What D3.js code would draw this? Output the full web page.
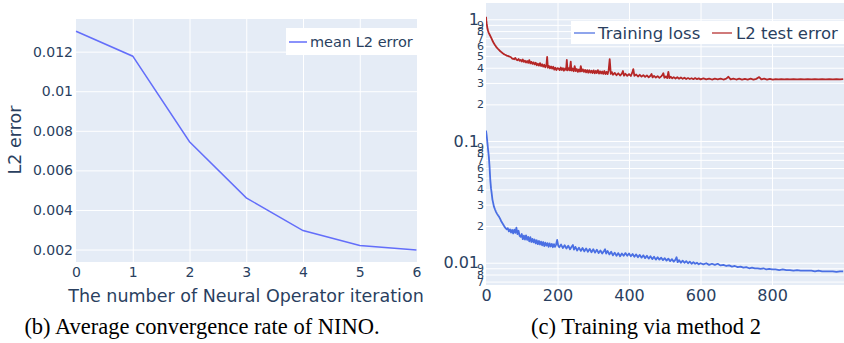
<!DOCTYPE html>
<html><head><meta charset="utf-8">
<script src="https://cdn.jsdelivr.net/npm/d3@7"></script>
<style>
body{margin:0;background:#fff}
svg{display:block}
.pl text{font-family:"DejaVu Sans",sans-serif;fill:#2a3f5f}
.cap{font-family:"Liberation Serif",serif;fill:#000}
</style></head><body>
<svg id="c" width="844" height="343"></svg>
<script>
// ---------- data: left chart ----------
const iterations = [0, 1, 2, 3, 4, 5, 6];
const meanL2Error = [0.01303, 0.01177, 0.00745, 0.00461, 0.00296, 0.00220, 0.00198];
const leftYTicks = [0.002, 0.004, 0.006, 0.008, 0.01, 0.012];
const leftYLabels = ["0.002", "0.004", "0.006", "0.008", "0.01", "0.012"];

// ---------- data: right chart ([epoch, value]) ----------
const trainLoss = [[0,.122],[2,.110],[4,.096],[6,.084],[8,.074],[10,.061],[12,.048],[14,.041],[16,.037],[18,.033],[20,.031],[22,.029],[25,.0275],[28,.0262],[31,.0252],[34,.0244],[37,.0237],[40,.0228],[43,.0218],[46,.0211],[49,.0204],[52,.0197],[55,.0192],[58,.0188],[61,.0192],[64,.0181],[67,.0188],[70,.0177],[73,.0186],[76,.0174],[79,.0187],[82,.0176],[85,.0194],[88,.0172],[91,.0183],[94,.0166],[97,.0163],[100,.0172],[103,.0156],[106,.0167],[109,.0155],[112,.0168],[115,.0154],[118,.0163],[121,.0150],[124,.0162],[127,.0148],[130,.0157],[133,.0147],[136,.0155],[139,.0144],[142,.0153],[145,.0142],[148,.0151],[151,.0141],[154,.0149],[157,.0139],[160,.0148],[163,.0137],[166,.0146],[169,.0138],[172,.0145],[175,.0135],[178,.0144],[181,.0136],[184,.0143],[187,.0134],[190,.0142],[193,.0135],[196,.0141],[199,.0154],[202,.0138],[205,.0134],[210,.0141],[215,.0132],[220,.0139],[225,.0131],[230,.0138],[235,.0129],[240,.0136],[243,.0140],[246,.0128],[250,.0135],[255,.0126],[260,.0133],[265,.0125],[270,.0132],[275,.0124],[280,.0131],[285,.0123],[290,.0130],[295,.0122],[300,.0129],[305,.0121],[310,.0128],[315,.0120],[320,.0126],[325,.0119],[330,.0125],[333,.0129],[336,.0119],[340,.0125],[345,.0117],[350,.0123],[355,.0115],[360,.0121],[365,.0114],[370,.0120],[375,.0113],[380,.0119],[385,.0114],[390,.0120],[395,.0114],[400,.0119],[405,.0113],[410,.0118],[415,.0112],[420,.0117],[425,.0111],[430,.0116],[435,.0110],[440,.0115],[445,.0109],[450,.0114],[455,.0108],[460,.0113],[465,.0107],[470,.0112],[475,.0106],[480,.0111],[485,.0106],[490,.0110],[495,.0105],[500,.0109],[505,.0104],[510,.0108],[515,.0103],[520,.0107],[525,.0102],[530,.0106],[533,.0111],[536,.0101],[540,.0105],[545,.0100],[550,.0104],[555,.0100],[560,.0103],[565,.0099],[570,.0102],[575,.0098],[580,.0101],[585,.0098],[590,.0100],[595,.0097],[600,.0099],[608,.0097],[616,.0099],[624,.0096],[632,.0098],[640,.0096],[648,.0098],[656,.0095],[664,.0096],[672,.0094],[680,.0095],[688,.0093],[696,.0094],[704,.0092],[712,.0093],[720,.0091],[728,.0092],[736,.0090],[744,.0091],[752,.0090],[760,.0090],[768,.0089],[776,.0090],[784,.0088],[792,.0089],[800,.0088],[810,.0088],[820,.0087],[830,.0088],[840,.0087],[850,.0087],[860,.0086],[870,.0087],[880,.0086],[890,.0086],[900,.0086],[910,.0086],[920,.0085],[930,.0086],[940,.0085],[950,.0085],[960,.0085],[970,.0085],[980,.0084],[990,.0085],[999,.0085]];

const testError = [[0,1.05],[1,.97],[2,.92],[3,.88],[4,.84],[6,.80],[8,.77],[10,.75],[13,.72],[16,.69],[19,.66],[22,.635],[25,.615],[28,.597],[31,.583],[34,.570],[37,.558],[40,.546],[43,.537],[46,.528],[49,.520],[52,.514],[55,.509],[58,.503],[61,.500],[64,.496],[67,.492],[70,.488],[73,.476],[76,.474],[79,.469],[82,.482],[85,.466],[88,.461],[91,.472],[94,.456],[97,.464],[100,.450],[103,.467],[106,.447],[109,.457],[112,.442],[115,.454],[118,.438],[121,.462],[124,.434],[127,.447],[130,.430],[133,.443],[136,.426],[139,.440],[142,.419],[145,.432],[148,.416],[151,.436],[154,.413],[157,.427],[160,.408],[163,.423],[166,.403],[169,.420],[171,.490],[173,.400],[176,.414],[179,.396],[182,.410],[185,.393],[188,.407],[191,.386],[194,.400],[197,.383],[200,.397],[203,.394],[206,.382],[209,.402],[212,.383],[215,.397],[218,.378],[221,.394],[224,.384],[226,.463],[228,.380],[231,.397],[234,.381],[237,.449],[239,.378],[242,.394],[245,.374],[248,.412],[251,.376],[254,.390],[257,.370],[260,.387],[263,.372],[265,.413],[268,.374],[271,.388],[274,.370],[277,.384],[280,.366],[283,.382],[286,.364],[289,.381],[292,.365],[295,.378],[298,.362],[301,.380],[304,.360],[307,.377],[310,.362],[313,.382],[316,.358],[319,.374],[322,.359],[325,.372],[328,.356],[331,.376],[334,.355],[337,.370],[340,.354],[343,.382],[346,.470],[349,.356],[352,.368],[355,.350],[360,.363],[365,.347],[370,.360],[375,.345],[380,.358],[383,.376],[386,.344],[390,.357],[395,.343],[400,.355],[405,.342],[409,.364],[412,.390],[415,.343],[420,.352],[425,.339],[430,.350],[435,.338],[440,.348],[445,.336],[450,.346],[455,.334],[460,.344],[463,.355],[466,.333],[470,.343],[475,.332],[480,.341],[485,.330],[490,.340],[493,.347],[496,.360],[499,.331],[503,.339],[507,.329],[510,.370],[513,.329],[517,.337],[521,.327],[525,.335],[530,.326],[535,.334],[540,.325],[545,.333],[550,.324],[555,.331],[560,.323],[565,.329],[570,.323],[575,.328],[580,.322],[585,.329],[590,.322],[595,.327],[600,.321],[608,.327],[616,.321],[624,.326],[632,.320],[640,.325],[648,.321],[656,.326],[664,.320],[672,.325],[678,.337],[684,.321],[692,.326],[700,.320],[708,.325],[716,.320],[724,.324],[732,.320],[740,.325],[748,.320],[756,.324],[764,.335],[770,.321],[778,.325],[786,.320],[794,.324],[802,.320],[810,.323],[818,.321],[826,.323],[834,.321],[842,.323],[850,.321],[860,.322],[870,.321],[880,.322],[890,.321],[900,.322],[910,.321],[920,.322],[930,.321],[940,.322],[950,.321],[960,.322],[970,.321],[980,.322],[990,.321],[999,.322]];

const rightXTicks = [0, 200, 400, 600, 800];
const rightMajorTicks = [1, 0.1, 0.01];
const rightMajorLabels = ["1", "0.1", "0.01"];
const rightMinorTicks = [0.9,0.8,0.7,0.6,0.5,0.4,0.3,0.2,0.09,0.08,0.07,0.06,0.05,0.04,0.03,0.02,0.009,0.008,0.007];
const rightMinorLabels = ["9","8","7","6","5","4","3","2","9","8","7","6","5","4","3","2","9","8","7"];
const seriesNames = ["Training loss", "L2 test error"];
const captions = ["(b) Average convergence rate of NINO.", "(c) Training via method 2"];

// ---------- drawing ----------
const svg = d3.select("#c");
const BG = "#E5ECF6";

// ===== left chart =====
const gL = svg.append("g").attr("class", "pl");
const xL = d3.scaleLinear().domain([0, 6]).range([76, 416.5]);
const yL = d3.scaleLinear().domain([0.00137, 0.01365]).range([262, 19]);
gL.append("rect").attr("x", 76).attr("y", 19).attr("width", 341).attr("height", 243).attr("fill", BG);
gL.append("g").attr("transform", "translate(0,262)")
  .call(d3.axisBottom(xL).tickValues(iterations.slice(1, 6)).tickSize(-243).tickFormat(""))
  .call(g => { g.select(".domain").remove(); g.selectAll("line").attr("stroke", "#fff").attr("stroke-width", 1); });
gL.append("g").attr("transform", "translate(76,0)")
  .call(d3.axisLeft(yL).tickValues(leftYTicks).tickSize(-341).tickFormat(""))
  .call(g => { g.select(".domain").remove(); g.selectAll("line").attr("stroke", "#fff").attr("stroke-width", 1); });
gL.append("path").datum(iterations.map((d, i) => [d, meanL2Error[i]]))
  .attr("fill", "none").attr("stroke", "#636efa").attr("stroke-width", 1.5)
  .attr("d", d3.line().x(d => xL(d[0])).y(d => yL(d[1])));
gL.append("g").attr("transform", "translate(0,262)")
  .call(d3.axisBottom(xL).tickValues(iterations).tickSize(0).tickPadding(5).tickFormat(d3.format("d")))
  .call(g => { g.select(".domain").remove(); g.selectAll("text").attr("font-size", 14).attr("font-family", "DejaVu Sans").attr("fill", "#2a3f5f"); });
gL.append("g").attr("transform", "translate(76,0)")
  .call(d3.axisLeft(yL).tickValues(leftYTicks).tickSize(0).tickPadding(3).tickFormat((d, i) => leftYLabels[i]))
  .call(g => { g.select(".domain").remove(); g.selectAll("text").attr("font-size", 14).attr("font-family", "DejaVu Sans").attr("fill", "#2a3f5f"); });
gL.append("text").attr("x", 246).attr("y", 302).attr("text-anchor", "middle").attr("font-size", 17.5)
  .text("The number of Neural Operator iteration");
gL.append("text").attr("transform", "translate(21,140) rotate(-90)").attr("text-anchor", "middle").attr("font-size", 17.5)
  .text("L2 error");
// legend
gL.append("rect").attr("x", 286).attr("y", 28).attr("width", 131).attr("height", 27).attr("fill", "#fff");
gL.append("line").attr("x1", 289).attr("x2", 307).attr("y1", 42).attr("y2", 42).attr("stroke", "#636efa").attr("stroke-width", 1.5);
gL.append("text").attr("x", 310).attr("y", 42).attr("dy", "0.35em").attr("font-size", 14.5).text("mean L2 error");

// ===== right chart =====
const gR = svg.append("g").attr("class", "pl");
const xR = d3.scaleLinear().domain([0, 999]).range([486, 843.2]);
const yR = d3.scaleLog().domain([0.00656, 1.361]).range([285, 3]);
gR.append("rect").attr("x", 486).attr("y", 3).attr("width", 358).attr("height", 282).attr("fill", BG);
gR.append("g").attr("transform", "translate(0,285)")
  .call(d3.axisBottom(xR).tickValues(rightXTicks.slice(1)).tickSize(-282).tickFormat(""))
  .call(g => { g.select(".domain").remove(); g.selectAll("line").attr("stroke", "#fff").attr("stroke-width", 1); });
gR.append("g").attr("transform", "translate(486,0)")
  .call(d3.axisLeft(yR).tickValues(rightMajorTicks.concat(rightMinorTicks)).tickSize(-358).tickFormat(""))
  .call(g => { g.select(".domain").remove(); g.selectAll("line").attr("stroke", "#fff").attr("stroke-width", 1); });
svg.append("clipPath").attr("id", "clipR").append("rect").attr("x", 486).attr("y", 3).attr("width", 358).attr("height", 282);
const lineR = d3.line().x(d => xR(d[0])).y(d => yR(d[1]));
gR.append("path").datum(trainLoss).attr("clip-path", "url(#clipR)")
  .attr("fill", "none").attr("stroke", "#4a6fe3").attr("stroke-width", 1.8).attr("stroke-linejoin", "round").attr("d", lineR);
gR.append("path").datum(testError).attr("clip-path", "url(#clipR)")
  .attr("fill", "none").attr("stroke", "#b52626").attr("stroke-width", 1.8).attr("stroke-linejoin", "round").attr("d", lineR);
gR.append("g").attr("transform", "translate(0,285)")
  .call(d3.axisBottom(xR).tickValues(rightXTicks).tickSize(0).tickPadding(5))
  .call(g => { g.select(".domain").remove(); g.selectAll("text").attr("font-size", 16).attr("font-family", "DejaVu Sans").attr("fill", "#2a3f5f"); });
gR.append("g").attr("transform", "translate(486,0)")
  .call(d3.axisLeft(yR).tickValues(rightMajorTicks).tickSize(0).tickPadding(7).tickFormat((d, i) => rightMajorLabels[i]))
  .call(g => { g.select(".domain").remove(); g.selectAll("text").attr("font-size", 16).attr("font-family", "DejaVu Sans").attr("fill", "#2a3f5f"); });
gR.append("g").attr("transform", "translate(486,0)")
  .call(d3.axisLeft(yR).tickValues(rightMinorTicks).tickSize(0).tickPadding(2).tickFormat((d, i) => rightMinorLabels[i]))
  .call(g => { g.select(".domain").remove(); g.selectAll("text").attr("font-size", 11).attr("font-family", "DejaVu Sans").attr("fill", "#2a3f5f"); });
// legend
gR.append("rect").attr("x", 571).attr("y", 21).attr("width", 273).attr("height", 23).attr("fill", "#fff");
gR.append("line").attr("x1", 574).attr("x2", 595).attr("y1", 33).attr("y2", 33).attr("stroke", "#8fa5ec").attr("stroke-width", 2);
gR.append("text").attr("x", 598).attr("y", 33).attr("dy", "0.35em").attr("font-size", 16.5).text(seriesNames[0]);
gR.append("line").attr("x1", 712).attr("x2", 732).attr("y1", 33).attr("y2", 33).attr("stroke", "#d07a7a").attr("stroke-width", 2);
gR.append("text").attr("x", 736).attr("y", 33).attr("dy", "0.35em").attr("font-size", 16.5).text(seriesNames[1]);

// ===== captions =====
svg.append("text").attr("class", "cap").attr("x", 202).attr("y", 334).attr("text-anchor", "middle").attr("font-size", 22.5).text(captions[0]);
svg.append("text").attr("class", "cap").attr("x", 646).attr("y", 334).attr("text-anchor", "middle").attr("font-size", 22.5).text(captions[1]);
</script></body></html>
